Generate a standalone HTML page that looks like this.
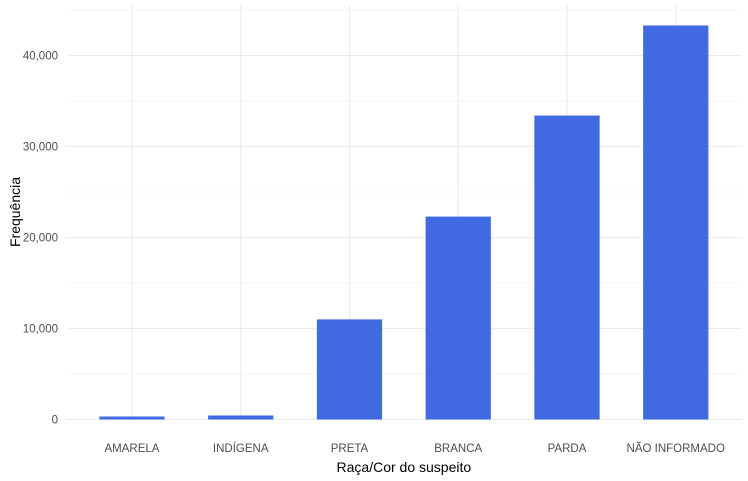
<!DOCTYPE html>
<html><head><meta charset="utf-8"><style>
body{margin:0;background:#fff;}
svg{display:block;font-family:"Liberation Sans",sans-serif;}
</style></head><body>
<svg id="chart" width="748" height="481"></svg>
<script>
const categories=["AMARELA","INDÍGENA","PRETA","BRANCA","PARDA","NÃO INFORMADO"];
const values=[330,440,11000,22300,33400,43300];
const yTicks=[0,10000,20000,30000,40000];
const yTickLabels=["0","10,000","20,000","30,000","40,000"];
const NS="http://www.w3.org/2000/svg";
const svg=document.getElementById('chart');
const panelLeft=66.7,panelRight=741,panelTop=5,y0=419.5,pxPer=0.0091;
const step=(panelRight-panelLeft)/(categories.length-1+1.2);
const xs=i=>panelLeft+step*(0.6+i);
const ys=v=>y0-v*pxPer;
function mk(t,a){const e=document.createElementNS(NS,t);for(const k in a)e.setAttribute(k,a[k]);svg.appendChild(e);return e;}
for(let v=5000;v<=45000;v+=10000){const g=mk('line',{x1:panelLeft,x2:panelRight,y1:ys(v),y2:ys(v),stroke:'#ebebeb','stroke-width':0.6});

}
yTicks.forEach((v,i)=>{const g=mk('line',{x1:panelLeft,x2:panelRight,y1:ys(v),y2:ys(v),stroke:'#ebebeb','stroke-width':1.1});


const t=mk('text',{x:58,y:ys(v)+4,'text-anchor':'end','font-size':11.5,fill:'#4d4d4d'});t.textContent=yTickLabels[i];

});
categories.forEach((c,i)=>{const g=mk('line',{x1:xs(i),x2:xs(i),y1:panelTop,y2:y0,stroke:'#ebebeb','stroke-width':1.1});

});
categories.forEach((c,i)=>{const w=step*0.6;const b=mk('rect',{x:xs(i)-w/2,y:ys(values[i]),width:w,height:y0-ys(values[i]),fill:'#4169e1'});


const t=mk('text',{x:xs(i),y:452,'text-anchor':'middle','font-size':11.5,fill:'#4d4d4d'});t.textContent=c;

});
const xt=mk('text',{x:(panelLeft+panelRight)/2,y:472,'text-anchor':'middle','font-size':14,fill:'#000'});xt.textContent="Raça/Cor do suspeito";


const yt=mk('text',{x:0,y:0,'text-anchor':'middle','font-size':14,fill:'#000',transform:'translate(20,212) rotate(-90)'});yt.textContent="Frequência";


</script>
</body></html>
